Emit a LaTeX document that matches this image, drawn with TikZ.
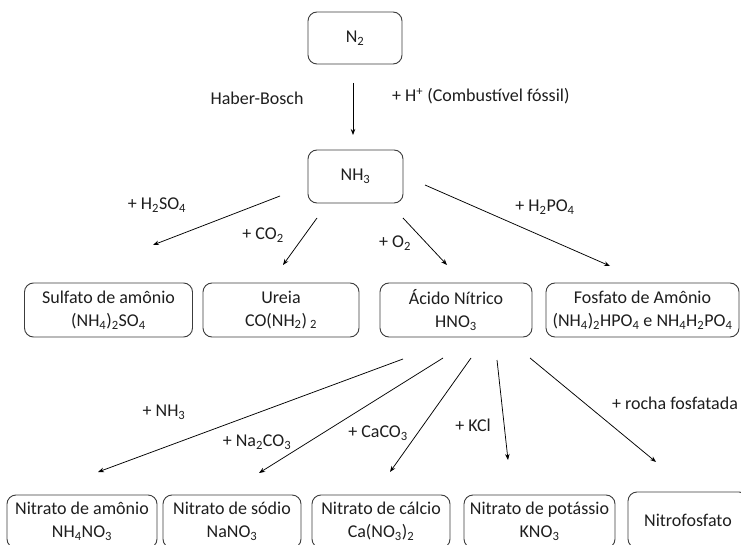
\documentclass[tikz,border=0pt]{standalone}
\usepackage{fontspec}
\setmainfont{Carlito}
\usetikzlibrary{arrows.meta}
\definecolor{boxgray}{HTML}{3C3C3C}
\definecolor{txt}{HTML}{1E1E1E}
\tikzset{
  box/.style={draw=boxgray, line width=0.9pt, rounded corners=9pt, align=center, inner sep=0pt, text=txt},
  lbl/.style={text=txt, inner sep=0pt},
  arr/.style={draw=black, line width=0.75pt, -{Stealth[length=6pt,width=4.5pt]}},
}
\newcommand{\sub}[1]{\textsubscript{#1}}
\begin{document}
\begin{tikzpicture}[x=1pt,y=-1pt, font=\fontsize{18}{23}\selectfont]
\useasboundingbox (0,0) rectangle (741,545);
\clip (0,0) rectangle (741,545);
\fill[white] (0,0) rectangle (741,545);

% boxes
\node[box, minimum width=94pt, minimum height=52pt] (n2) at (355,38) {N\sub{2}};
\node[box, minimum width=95pt, minimum height=53pt] (nh3) at (355.5,176.5) {NH\sub{3}};

\node[box, minimum width=168pt, minimum height=54pt] (sulf) at (108.5,310) {Sulfato de amônio\\(NH\sub{4})\sub{2}SO\sub{4}};
\node[box, minimum width=156pt, minimum height=54pt] (ureia) at (281,310) {Ureia\\CO(NH\sub{2})\,\sub{2}};
\node[box, minimum width=152pt, minimum height=54pt] (acido) at (456,310) {Ácido Nítrico\\HNO\sub{3}};
\node[box, minimum width=193pt, minimum height=54pt] (fosf) at (642.5,310) {Fosfato de Amônio\\(NH\sub{4})\sub{2}HPO\sub{4} e NH\sub{4}H\sub{2}PO\sub{4}};

\node[box, minimum width=150pt, minimum height=53pt] (amonio) at (82,521.5) {Nitrato de amônio\\NH\sub{4}NO\sub{3}};
\node[box, minimum width=138pt, minimum height=53pt] (sodio) at (232,521.5) {Nitrato de sódio\\NaNO\sub{3}};
\node[box, minimum width=138pt, minimum height=53pt] (calcio) at (381,521.5) {Nitrato de cálcio\\Ca(NO\sub{3})\sub{2}};
\node[box, minimum width=151pt, minimum height=53pt] (potassio) at (539.5,521.5) {Nitrato de potássio\\KNO\sub{3}};
\node[box, minimum width=120pt, minimum height=56pt] (nitrof) at (688,520) {Nitrofosfato};

% connector end points
\coordinate (s0) at (353,83);   \coordinate (e0) at (353,135);
\coordinate (s1) at (280,196);  \coordinate (e1) at (153,245);
\coordinate (s2) at (317,218);  \coordinate (e2) at (283,265);
\coordinate (s3) at (403,218);  \coordinate (e3) at (447,265);
\coordinate (s4) at (425,185);  \coordinate (e4) at (610,266);
\coordinate (t1) at (403,359);  \coordinate (f1) at (98,472);
\coordinate (t2) at (443,358);  \coordinate (f2) at (259,473);
\coordinate (t3) at (471,358);  \coordinate (f3) at (390,472);
\coordinate (t4) at (497,360);  \coordinate (f4) at (508,460);
\coordinate (t5) at (530,358);  \coordinate (f5) at (656,462);

\draw[arr] (s0) -- (e0);
\draw[arr] (s1) -- (e1);
\draw[arr] (s2) -- (e2);
\draw[arr] (s3) -- (e3);
\draw[arr] (s4) -- (e4);
\draw[arr] (t1) -- (f1);
\draw[arr] (t2) -- (f2);
\draw[arr] (t3) -- (f3);
\draw[arr] (t4) -- (f4);
\draw[arr] (t5) -- (f5);

% labels
\node[lbl] (lhb) at (257,98) {Haber-Bosch};
\node[lbl, anchor=west] (lhp) at (392,96) {+ H\textsuperscript{+} (Combustível fóssil)};
\node[lbl] (l1) at (157,205) {+ H\sub{2}SO\sub{4}};
\node[lbl] (l2) at (263,235) {+ CO\sub{2}};
\node[lbl] (l3) at (395,243) {+ O\sub{2}};
\node[lbl] (l4) at (545,207) {+ H\sub{2}PO\sub{4}};
\node[lbl] (m1) at (164,412) {+ NH\sub{3}};
\node[lbl] (m2) at (257,442) {+ Na\sub{2}CO\sub{3}};
\node[lbl] (m3) at (378,433) {+ CaCO\sub{3}};
\node[lbl] (m4) at (473,425) {+ KCl};
\node[lbl] (m5) at (675,403) {+ rocha fosfatada};
\end{tikzpicture}
\end{document}
